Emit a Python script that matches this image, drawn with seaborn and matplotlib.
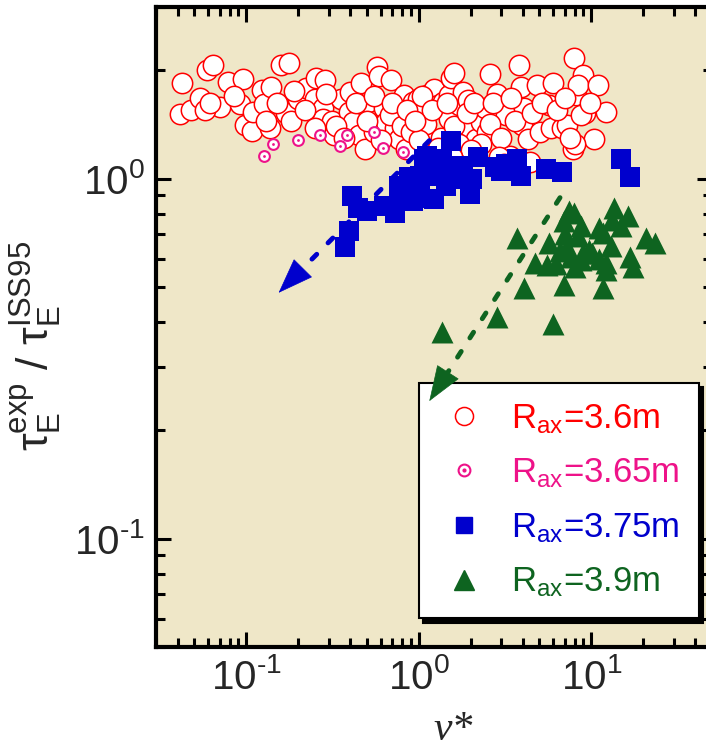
import math
import matplotlib
matplotlib.use("Agg")
import matplotlib.pyplot as plt
from matplotlib.lines import Line2D
from matplotlib.legend_handler import HandlerTuple
from matplotlib.ticker import FuncFormatter
import seaborn as sns

# R_ax = 3.6 m (open red circles)
r360_nu = [0.0425, 0.0414, 0.0479, 0.054, 0.0593, 0.0643, 0.070, 0.0789, 0.0955, 0.0924,
           0.098, 0.108, 0.110, 0.123, 0.127, 0.140, 0.137, 0.158, 0.178, 0.170,
           0.182, 0.200, 0.221, 0.249, 0.255, 0.280, 0.287, 0.277, 0.316, 0.323,
           0.356, 0.401, 0.392, 0.415, 0.463, 0.452, 0.486, 0.509, 0.574, 0.588,
           0.547, 0.632, 0.647, 0.689, 0.729, 0.754, 0.765, 0.822, 0.841, 0.927,
           0.995, 1.04, 1.02, 1.12, 1.18, 1.23, 1.29, 1.39, 1.49, 1.49,
           1.53, 1.61, 1.72, 1.81, 1.94, 1.99, 2.14, 2.30, 2.41, 2.47,
           2.59, 2.85, 2.99, 3.21, 3.37, 3.80, 3.89, 3.98, 4.08, 4.28,
           4.38, 4.82, 5.06, 5.70, 5.98, 5.84, 6.73, 7.24, 7.97, 8.16,
           8.97, 8.36, 9.19, 8.76, 7.78, 10.4, 10.9, 12.2,
           0.33, 0.37, 0.43, 0.50, 0.55, 0.60, 0.68, 0.70, 0.80, 0.85,
           0.90, 1.05, 1.10, 1.20, 1.35, 1.45, 1.60, 1.70, 1.90, 2.10,
           2.30, 2.60, 2.70, 3.00, 3.40, 3.60, 4.50, 5.20, 6.30, 7.00,
           9.80, 0.22, 0.25, 0.15, 0.19, 0.29, 0.13, 0.085, 0.058, 0.062,
           1.30, 1.00, 0.95, 2.00, 2.90, 8.00, 7.50, 3.10, 1.55]
r360_tau = [1.85, 1.51, 1.55, 1.68, 2.00, 2.07, 1.58, 1.86, 1.89, 1.61,
            1.41, 1.36, 1.53, 1.76, 1.61, 1.80, 1.38, 2.07, 2.10, 1.52,
            1.45, 1.67, 1.79, 1.67, 1.90, 1.57, 1.88, 1.47, 1.45, 1.32,
            1.67, 1.74, 1.53, 1.44, 1.84, 1.32, 1.21, 1.63, 2.05, 1.93,
            1.35, 1.57, 1.44, 1.88, 1.38, 1.55, 1.29, 1.71, 1.21, 1.63,
            1.67, 1.50, 1.53, 1.71, 1.29, 1.78, 1.60, 1.63, 1.71, 1.47,
            1.91, 1.97, 1.60, 1.74, 1.65, 1.38, 1.29, 1.44, 1.57, 1.35,
            1.96, 1.72, 1.55, 1.50, 1.16, 2.07, 1.80, 1.41, 1.57, 1.29,
            1.11, 1.82, 1.35, 1.60, 1.84, 1.38, 1.38, 1.41, 2.16, 1.71,
            1.94, 1.82, 1.52, 1.50, 1.21, 1.29, 1.82, 1.53,
            1.40, 1.30, 1.62, 1.45, 1.70, 1.28, 1.50, 1.62, 1.40, 1.55,
            1.35, 1.70, 1.42, 1.55, 1.30, 1.62, 1.40, 1.25, 1.52, 1.62,
            1.25, 1.42, 1.62, 1.30, 1.68, 1.45, 1.52, 1.62, 1.55, 1.68,
            1.62, 1.55, 1.38, 1.62, 1.75, 1.72, 1.45, 1.70, 1.55, 1.62,
            1.22, 1.28, 1.45, 1.20, 1.15, 1.25, 1.30, 1.10, 1.15]

# R_ax = 3.65 m (small dotted circles)
r365_nu = [0.126, 0.1435, 0.200, 0.267, 0.351, 0.383, 0.547, 0.618, 0.814]
r365_tau = [1.16, 1.249, 1.28, 1.32, 1.236, 1.327, 1.352, 1.217, 1.189]

# R_ax = 3.75 m (blue squares)
r375_nu = [1.53, 1.07, 1.18, 1.23, 1.12, 1.29, 1.02, 0.883, 0.927, 0.841,
           0.765, 0.729, 0.632, 0.498, 0.442, 0.411, 0.392, 0.373, 1.02, 1.23,
           1.43, 1.57, 1.72, 2.04, 2.19, 1.99, 2.78, 2.99, 3.71, 3.89,
           5.43, 6.73, 14.8, 16.7, 1.12, 1.36, 1.57, 1.02, 0.765, 0.927,
           1.81, 3.21]
r375_tau = [1.276, 1.134, 1.134, 1.086, 1.052, 1.018, 1.018, 1.008, 0.955, 0.935,
            0.876, 0.804, 0.839, 0.813, 0.830, 0.895, 0.714, 0.648, 0.886, 0.876,
            0.955, 0.997, 1.041, 0.997, 1.146, 0.905, 1.075, 1.052, 1.134, 1.018,
            1.063, 1.041, 1.134, 1.008, 1.159, 1.122, 1.086, 0.955, 0.955, 0.867,
            1.086, 1.098]

# R_ax = 3.9 m (green triangles)
r390_nu = [3.71, 7.41, 7.97, 13.5, 16.3, 6.90, 8.76, 13.2, 14.8, 5.70,
           7.24, 8.36, 11.7, 20.7, 23.4, 4.71, 5.56, 4.08, 6.90, 11.7,
           8.76, 7.59, 10.1, 12.2, 12.2, 16.7, 17.5, 2.85, 5.98, 1.36,
           6.57, 11.1, 9.64, 7.0, 9.0, 11.0, 13.0, 6.2, 8.0]
r390_tau = [0.684, 0.813, 0.804, 0.830, 0.787, 0.762, 0.738, 0.770, 0.738, 0.663,
            0.648, 0.692, 0.707, 0.684, 0.663, 0.582, 0.576, 0.496, 0.506, 0.496,
            0.595, 0.608, 0.621, 0.582, 0.558, 0.608, 0.570, 0.413, 0.396, 0.375,
            0.628, 0.730, 0.635, 0.70, 0.62, 0.60, 0.65, 0.58, 0.57]

# dashed trend arrows: (start, tip)
arrow_blue = [(1.15, 1.276), (0.154, 0.482)]
arrow_green = [(6.58, 0.886), (1.15, 0.241)]

labels = [r"R$_{ax}$=3.6m", r"R$_{ax}$=3.65m", r"R$_{ax}$=3.75m", r"R$_{ax}$=3.9m"]

RED = "#FF0000"
MAG = "#EE1289"
BLUE = "#0000CD"
GREEN = "#0E6420"
BG = "#EFE7C8"

sns.set_style("ticks")
plt.rcParams["font.family"] = ["Liberation Sans", "DejaVu Sans"]
plt.rcParams["mathtext.fontset"] = "custom"
plt.rcParams["mathtext.rm"] = "Liberation Sans"
plt.rcParams["mathtext.it"] = "Liberation Sans:italic"
plt.rcParams["mathtext.default"] = "regular"
plt.rcParams["axes.unicode_minus"] = False

fig = plt.figure(figsize=(7.06, 7.49), dpi=100)
ax = fig.add_axes([156 / 706, 102 / 749, 556 / 706, 640 / 749])
ax.set_facecolor(BG)

sns.scatterplot(x=r360_nu, y=r360_tau, ax=ax, marker="o", s=215, color="white",
                edgecolor=RED, linewidth=1.1, zorder=3, legend=False)
sns.scatterplot(x=r365_nu, y=r365_tau, ax=ax, marker="o", s=60, color="white",
                edgecolor=MAG, linewidth=1.5, zorder=4, legend=False)
sns.scatterplot(x=r365_nu, y=r365_tau, ax=ax, marker="o", s=4, color=MAG,
                linewidth=0, zorder=4, legend=False)
sns.scatterplot(x=r375_nu, y=r375_tau, ax=ax, marker="s", s=215, color=BLUE,
                linewidth=0, zorder=6, legend=False)
sns.scatterplot(x=r390_nu, y=r390_tau, ax=ax, marker="^", s=250, color=GREEN,
                linewidth=0, zorder=6, legend=False)

# dashed shaft + solid filled head; the green one sits above the legend
for (start, tip), c, z in [(arrow_blue, BLUE, 5), (arrow_green, GREEN, 12)]:
    ax.annotate("", xy=tip, xytext=start,
                arrowprops=dict(arrowstyle="-", color=c, lw=3.5,
                                linestyle=(0, (1.4, 3.3)), capstyle="round",
                                shrinkA=0, shrinkB=22),
                zorder=z)
    near = (tip[0] * (start[0] / tip[0]) ** 0.02, tip[1] * (start[1] / tip[1]) ** 0.02)
    ax.annotate("", xy=tip, xytext=near,
                arrowprops=dict(arrowstyle="-|>,head_length=0.6,head_width=0.22",
                                color=c, lw=0.5, mutation_scale=40,
                                shrinkA=0, shrinkB=0),
                zorder=z)

ax.set_xscale("log")
ax.set_yscale("log")
ax.set_xlim(0.03, 50)
ax.set_ylim(0.05, 3)


def pow10(v, pos):
    e = int(round(math.log10(v)))
    return "$10^{%s}$" % str(e).replace("-", "\u2010")


ax.xaxis.set_major_formatter(FuncFormatter(pow10))
ax.yaxis.set_major_formatter(FuncFormatter(pow10))

ax.tick_params(which="both", direction="in", top=True, right=True,
               labelsize=29, width=2.2, color="black")
ax.tick_params(which="major", length=11)
ax.tick_params(which="minor", length=6.5)
ax.tick_params(axis="x", pad=8)
ax.tick_params(axis="y", pad=8)
for sp in ax.spines.values():
    sp.set_linewidth(3)
    sp.set_color("black")

ax.set_xlabel("ν*", fontsize=30, fontfamily="Liberation Serif", fontstyle="italic")
ax.xaxis.set_label_coords(0.535, -0.10)
ax.set_ylabel(r"$\tau_E^{exp}$ / $\tau_E^{ISS95}$", fontsize=32)
ax.yaxis.set_label_coords(-0.165, 0.47)

h_red = Line2D([], [], ls="", marker="o", ms=13, mfc="white", mec=RED, mew=1.1)
h_mag = (Line2D([], [], ls="", marker="o", ms=8.5, mfc="white", mec=MAG, mew=1.5),
         Line2D([], [], ls="", marker="o", ms=2, mfc=MAG, mec=MAG))
h_blue = Line2D([], [], ls="", marker="s", ms=12, color=BLUE)
h_green = Line2D([], [], ls="", marker="^", ms=14, color=GREEN)

leg = ax.legend([h_red, h_mag, h_blue, h_green], labels,
                handler_map={tuple: HandlerTuple(ndivide=1)},
                loc="upper left", bbox_to_anchor=(0.473, 0.4125), borderaxespad=0,
                fontsize=25, labelcolor=[RED, MAG, BLUE, GREEN],
                frameon=True, fancybox=False, edgecolor="black", framealpha=1,
                shadow={"ox": 3, "oy": -3, "facecolor": "black", "edgecolor": "black", "alpha": 1},
                borderpad=0.55, handlelength=1.5, handletextpad=0.6, labelspacing=0.6)
leg.get_frame().set_linewidth(1.5)
leg.set_zorder(10)

fig.savefig("out.png", dpi=100)
